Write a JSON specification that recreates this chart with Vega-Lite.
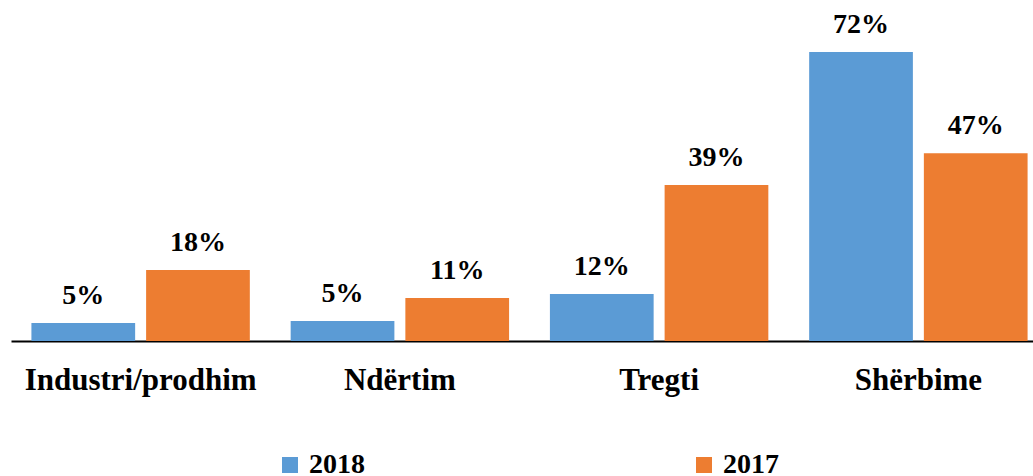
{
  "$schema": "https://vega.github.io/schema/vega-lite/v6.json",
  "width": 1022,
  "height": 321,
  "autosize": {"type": "none"},
  "padding": {"left": 11, "top": 20, "right": 0, "bottom": 135},
  "data": {
    "values": [
      {"category": "Industri/prodhim", "year": "2018", "value": 4.5, "label": "5%"},
      {"category": "Industri/prodhim", "year": "2017", "value": 17.7, "label": "18%"},
      {"category": "Ndërtim", "year": "2018", "value": 5.0, "label": "5%"},
      {"category": "Ndërtim", "year": "2017", "value": 10.7, "label": "11%"},
      {"category": "Tregti", "year": "2018", "value": 11.7, "label": "12%"},
      {"category": "Tregti", "year": "2017", "value": 38.9, "label": "39%"},
      {"category": "Shërbime", "year": "2018", "value": 72.0, "label": "72%"},
      {"category": "Shërbime", "year": "2017", "value": 46.8, "label": "47%"}
    ]
  },
  "encoding": {
    "x": {
      "field": "category",
      "type": "nominal",
      "sort": ["Industri/prodhim", "Ndërtim", "Tregti", "Shërbime"],
      "scale": {"paddingInner": 0, "paddingOuter": 0, "range": [0, 1037]},
      "axis": {
        "title": null,
        "labelAngle": 0,
        "labelLimit": 0,
        "domain": true,
        "domainColor": "#000000",
        "domainWidth": 2,
        "ticks": false,
        "grid": false,
        "labelFont": "Liberation Serif",
        "labelFontWeight": "bold",
        "labelFontSize": 31,
        "labelColor": "#000000",
        "labelPadding": 48,
        "labelBaseline": "alphabetic"
      }
    },
    "xOffset": {
      "field": "year",
      "type": "nominal",
      "sort": ["2018", "2017"],
      "scale": {"paddingInner": 0.0957, "paddingOuter": 0.178}
    },
    "y": {
      "field": "value",
      "type": "quantitative",
      "scale": {"domain": [0, 80]},
      "axis": null
    }
  },
  "layer": [
    {
      "mark": {"type": "bar"},
      "encoding": {
        "color": {
          "field": "year",
          "type": "nominal",
          "sort": ["2018", "2017"],
          "scale": {"domain": ["2018", "2017"], "range": ["#5B9BD5", "#ED7D31"]},
          "legend": {
            "title": null,
            "orient": "none",
            "direction": "horizontal",
            "legendX": 265,
            "legendY": 431,
            "symbolType": "square",
            "symbolSize": 256,
            "symbolStrokeWidth": 0,
            "symbolOpacity": 1,
            "labelFont": "Liberation Serif",
            "labelFontWeight": "bold",
            "labelFontSize": 28,
            "labelColor": "#000000",
            "labelOffset": 5,
            "columnPadding": 325
          }
        }
      }
    },
    {
      "mark": {
        "type": "text",
        "dy": -19,
        "baseline": "alphabetic",
        "font": "Liberation Serif",
        "fontWeight": "bold",
        "fontSize": 28,
        "color": "#000000"
      },
      "encoding": {
        "text": {"field": "label"}
      }
    }
  ],
  "config": {"view": {"stroke": null}}
}
